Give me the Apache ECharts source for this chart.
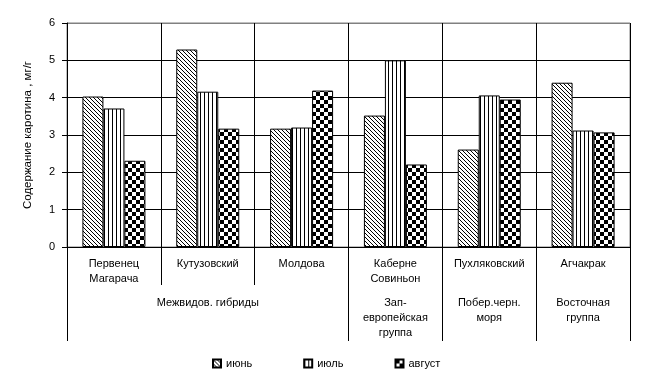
<!DOCTYPE html>
<html>
<head>
<meta charset="utf-8">
<script src="https://cdn.jsdelivr.net/npm/echarts@6/dist/echarts.min.js"></script>
<style>
html,body{margin:0;padding:0;background:#fff;}
#chart{width:645px;height:384px;}
</style>
</head>
<body>
<div id="chart"></div>
<script>
const categories = ['Первенец\nМагарача', 'Кутузовский', 'Молдова', 'Каберне\nСовиньон', 'Пухляковский', 'Агчакрак'];
const groupLabels = ['', 'Межвидов. гибриды', '', 'Зап-\nевропейская\nгруппа', 'Побер.черн.\nморя', 'Восточная\nгруппа'];
const groupStartIndices = [0, 3, 4, 5];
const seriesNames = ['июнь', 'июль', 'август'];
const june = [4.03, 5.29, 3.17, 3.52, 2.61, 4.40];
const july = [3.71, 4.16, 3.20, 5.00, 4.06, 3.12];
const august = [2.31, 3.17, 4.19, 2.21, 3.95, 3.07];
const yTicks = [0, 1, 2, 3, 4, 5, 6];

function makePattern(type) {
  const c = document.createElement('canvas');
  const s = type === 'checker' ? 8 : 4;
  c.width = s; c.height = s;
  const ctx = c.getContext('2d');
  ctx.fillStyle = '#fff';
  ctx.fillRect(0, 0, s, s);
  ctx.fillStyle = '#000';
  if (type === 'diag') {
    for (let i = 0; i < s; i++) ctx.fillRect(i, i, 1, 1);
  } else if (type === 'vert') {
    ctx.fillRect(0, 0, 1, s);
  } else {
    ctx.fillRect(0, 0, 4, 4);
    ctx.fillRect(4, 4, 4, 4);
  }
  return { image: c, repeat: 'repeat' };
}

const font = 'Liberation Sans, Arial, sans-serif';
const patterns = [makePattern('diag'), makePattern('vert'), makePattern('checker')];
const values = [june, july, august];

const chart = echarts.init(document.getElementById('chart'), null, { renderer: 'canvas' });
chart.setOption({
  animation: false,
  backgroundColor: '#fff',
  textStyle: { fontFamily: font, color: '#000' },
  grid: { left: 67, right: 15, top: 23, bottom: 137, show: true, borderColor: '#808080', borderWidth: 1, backgroundColor: 'transparent' },
  legend: {
    data: seriesNames,
    left: 207, top: 353,
    itemWidth: 8, itemHeight: 8, itemGap: 51,
    icon: 'rect',
    textStyle: { fontFamily: font, fontSize: 11, color: '#000' }
  },
  xAxis: [
    {
      type: 'category',
      data: categories,
      position: 'bottom',
      axisLine: { show: true, lineStyle: { color: '#000', width: 1 } },
      axisTick: { show: true, length: 38, lineStyle: { color: '#000' } },
      axisLabel: { margin: 9, fontSize: 11, lineHeight: 15, color: '#000', fontFamily: font, interval: 0 },
      splitLine: { show: true, lineStyle: { color: ['#000'], width: 1 } }
    },
    {
      type: 'category',
      data: groupLabels,
      position: 'bottom',
      axisLine: { show: false },
      axisTick: {
        show: true, length: 94, lineStyle: { color: '#000' },
        interval: function (index) { return groupStartIndices.indexOf(index) >= 0; }
      },
      axisLabel: { margin: 48, fontSize: 11, lineHeight: 15, color: '#000', fontFamily: font, interval: 0 },
      splitLine: { show: false }
    }
  ],
  yAxis: {
    type: 'value',
    min: yTicks[0], max: yTicks[yTicks.length - 1], interval: 1,
    name: 'Содержание каротина , мг/г',
    nameLocation: 'middle',
    nameGap: 33,
    nameTextStyle: { fontSize: 11.5, color: '#000', fontFamily: font },
    axisLine: { show: true, lineStyle: { color: '#000' } },
    axisTick: { show: true, length: 5, lineStyle: { color: '#000' } },
    axisLabel: { margin: 12, fontSize: 11, color: '#000', fontFamily: font },
    splitLine: { show: true, lineStyle: { color: ['#000', '#000', '#000', '#000', '#000', '#000', '#808080'], width: 1 } }
  },
  series: seriesNames.map((n, i) => ({
    name: n,
    type: 'bar',
    xAxisIndex: 0,
    data: values[i],
    barWidth: 21,
    barGap: '0%',
    itemStyle: { color: patterns[i], borderColor: '#000', borderWidth: 1 }
  }))
});
</script>
</body>
</html>
